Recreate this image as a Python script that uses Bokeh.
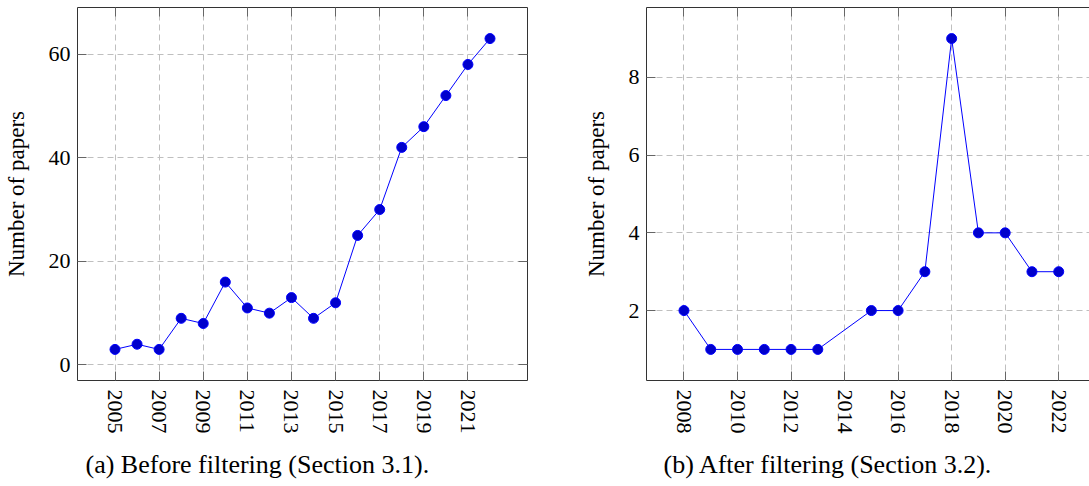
from bokeh.plotting import figure
from bokeh.models import Range1d, LinearAxis, FixedTicker, CustomJSTickFormatter, Title
from bokeh.layouts import row
from bokeh.embed import file_html
from bokeh.resources import INLINE

# ---- data ----
years_a = [2005, 2006, 2007, 2008, 2009, 2010, 2011, 2012, 2013, 2014, 2015,
           2016, 2017, 2018, 2019, 2020, 2021, 2022]
papers_a = [3, 4, 3, 9, 8, 16, 11, 10, 13, 9, 12, 25, 30, 42, 46, 52, 58, 63]

years_b = [2008, 2009, 2010, 2011, 2012, 2013, 2015, 2016, 2017, 2018, 2019,
           2020, 2021, 2022]
papers_b = [2, 1, 1, 1, 1, 1, 2, 2, 3, 9, 4, 4, 3, 3]

xticks_a = [2005, 2007, 2009, 2011, 2013, 2015, 2017, 2019, 2021]
yticks_a = [0, 20, 40, 60]
xticks_b = [2008, 2010, 2012, 2014, 2016, 2018, 2020, 2022]
yticks_b = [2, 4, 6, 8]

ylabel = "Number of papers"
caption_a = "(a) Before filtering (Section 3.1)."
caption_b = "(b) After filtering (Section 3.2)."

FONT = "Liberation Serif"
GRID = "#bfbfbf"
AXIS = "#333333"


def style_axis(ax, labels=True):
    ax.major_tick_in = 9
    ax.major_tick_out = 0
    ax.minor_tick_in = 0
    ax.minor_tick_out = 0
    ax.major_tick_line_color = "#666666"
    ax.major_tick_line_width = 1
    ax.axis_line_color = AXIS
    ax.axis_line_width = 1
    ax.major_label_text_font = FONT
    ax.major_label_text_font_size = "22px"
    ax.major_label_text_color = "#000000"
    if not labels:
        ax.formatter = CustomJSTickFormatter(code="return ''")
        ax.major_label_text_font_size = "0px"
        ax.major_label_standoff = 0


def make(xs, ys, xr, yr, xt, yt, caption, min_left, frame_w, min_right,
         mirror_right, cap_offset):
    p = figure(frame_width=frame_w, frame_height=373,
               x_range=Range1d(*xr), y_range=Range1d(*yr),
               output_backend="svg", toolbar_location=None,
               min_border_left=min_left, min_border_right=min_right,
               min_border_top=7, min_border_bottom=0)
    p.outline_line_color = None
    p.background_fill_color = "white"
    p.border_fill_color = "white"

    xa = p.xaxis[0]
    ya = p.yaxis[0]
    xa.ticker = FixedTicker(ticks=xt)
    ya.ticker = FixedTicker(ticks=yt)
    style_axis(xa)
    style_axis(ya)
    xa.major_label_orientation = "vertical"
    xa.major_label_standoff = 9
    ya.major_label_standoff = 7
    ya.axis_label = ylabel
    ya.axis_label_text_font = FONT
    ya.axis_label_text_font_size = "23px"
    ya.axis_label_text_font_style = "normal"
    ya.axis_label_text_color = "#000000"
    ya.axis_label_standoff = 17

    p.xgrid.ticker = FixedTicker(ticks=xt)
    p.ygrid.ticker = FixedTicker(ticks=yt)
    for g in (p.xgrid[0], p.ygrid[0]):
        g.grid_line_color = GRID
        g.grid_line_dash = "6 4"
        g.grid_line_width = 1

    top = LinearAxis(ticker=FixedTicker(ticks=xt))
    style_axis(top, labels=False)
    p.add_layout(top, "above")
    if mirror_right:
        rt = LinearAxis(ticker=FixedTicker(ticks=yt))
        style_axis(rt, labels=False)
        p.add_layout(rt, "right")

    p.line(xs, ys, line_color="#0000ff", line_width=1)
    p.scatter(xs, ys, size=10, fill_color="#0000cc", line_color="#0000ff",
              line_width=1)

    t = Title(text=caption, align="left", offset=cap_offset,
              text_font=FONT, text_font_size="26px",
              text_font_style="normal", text_color="#000000", standoff=23)
    p.add_layout(t, "below")
    return p


p1 = make(years_a, papers_a, (2003.3, 2023.7), (-3, 69), xticks_a, yticks_a,
          caption_a, 77, 450, 19, True, 8)
p2 = make(years_b, papers_b, (2006.6, 2023.15), (0.2, 9.8), xticks_b, yticks_b,
          caption_b, 100, 443, 0, False, 17)

layout = row(p1, p2)
open("out.html", "w").write(file_html(layout, INLINE))
